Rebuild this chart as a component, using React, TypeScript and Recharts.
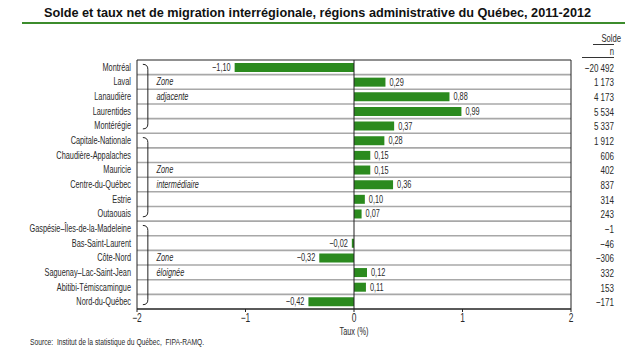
import React from "react";
import {
  BarChart,
  Bar,
  XAxis,
  YAxis,
  CartesianGrid,
  ReferenceLine,
  ReferenceArea,
  ReferenceDot,
  LabelList,
} from "recharts";

const regions = [
  "Montréal",
  "Laval",
  "Lanaudière",
  "Laurentides",
  "Montérégie",
  "Capitale-Nationale",
  "Chaudière-Appalaches",
  "Mauricie",
  "Centre-du-Québec",
  "Estrie",
  "Outaouais",
  "Gaspésie–Îles-de-la-Madeleine",
  "Bas-Saint-Laurent",
  "Côte-Nord",
  "Saguenay–Lac-Saint-Jean",
  "Abitibi-Témiscamingue",
  "Nord-du-Québec",
];

const taux = [-1.1, 0.29, 0.88, 0.99, 0.37, 0.28, 0.15, 0.15, 0.36, 0.1, 0.07, 0.0, -0.02, -0.32, 0.12, 0.11, -0.42];

const solde = [-20492, 1173, 4173, 5534, 5337, 1912, 606, 402, 837, 314, 243, -1, -46, -306, 332, 153, -171];

const xTicks = [-2, -1, 0, 1, 2];

const zones = [
  { from: "Montréal", to: "Montérégie", words: ["Zone", "adjacente"], rows: ["Laval", "Lanaudière"] },
  { from: "Capitale-Nationale", to: "Outaouais", words: ["Zone", "intermédiaire"], rows: ["Mauricie", "Centre-du-Québec"] },
  { from: "Gaspésie–Îles-de-la-Madeleine", to: "Nord-du-Québec", words: ["Zone", "éloignée"], rows: ["Côte-Nord", "Saguenay–Lac-Saint-Jean"] },
];

const data = regions.map((name, i) => ({ name, taux: taux[i], solde: solde[i] }));

const FONT = "'Liberation Sans', Arial, sans-serif";
const SQUEEZE = 0.7;
const GREEN = "#2b8a1e";
const TEXT = "#2a2a2a";

const fmtTaux = (v: number) => (v < 0 ? "−" : "") + Math.abs(v).toFixed(2).replace(".", ",");
const fmtSolde = (v: number) =>
  (v < 0 ? "−" : "") + Math.abs(v).toString().replace(/\B(?=(\d{3})+(?!\d))/g, " ");

// Arial Narrow look-alike: regular font squeezed horizontally
const Narrow = ({ x, y, anchor = "start", size = 10, italic = false, dy = 3.5, children }: any) => (
  <text
    transform={`translate(${x},${y}) scale(${SQUEEZE},1)`}
    x={0}
    y={0}
    dy={dy}
    textAnchor={anchor}
    fontSize={size}
    fontStyle={italic ? "italic" : "normal"}
    fontFamily={FONT}
    fill={TEXT}
  >
    {children}
  </text>
);

const BarValue = (props: any) => {
  const { x, y, width, height, value } = props;
  const neg = value < 0;
  return (
    <Narrow x={neg ? Math.min(x, x + width) - 4 : x + width + 4} y={y + height / 2} anchor={neg ? "end" : "start"} size={10.5}>
      {fmtTaux(value)}
    </Narrow>
  );
};

const RegionTick = (props: any) => {
  const { x, y, payload } = props;
  return (
    <Narrow x={x} y={y} anchor="end" size={10.5}>
      {payload.value}
    </Narrow>
  );
};

const SoldeTick = (props: any) => {
  const { x, y, payload } = props;
  const v = solde[regions.indexOf(payload.value)];
  return (
    <Narrow x={x + 43} y={y} anchor="end" size={11.5} dy={4.5}>
      {fmtSolde(v)}
    </Narrow>
  );
};

const XTick = (props: any) => {
  const { x, y, payload } = props;
  const v = payload.value;
  return (
    <Narrow x={x} y={y} anchor="middle" size={12} dy={9}>
      {v < 0 ? "−" + Math.abs(v) : String(v)}
    </Narrow>
  );
};

const TauxLabel = (props: any) => {
  const { viewBox } = props;
  return (
    <Narrow x={viewBox.x + viewBox.width / 2} y={viewBox.y + 22} anchor="middle" size={10.5}>
      Taux (%)
    </Narrow>
  );
};

const Bracket = (props: any) => {
  const { x1, y1, y2 } = props;
  const x = x1 - 5;
  const r = x1;
  const top = y1 - 3;
  const bot = y2 + 3;
  return (
    <path
      d={`M${x},${top} Q${r},${top} ${r},${top + 5} L${r},${bot - 5} Q${r},${bot} ${x},${bot}`}
      fill="none"
      stroke="#222"
      strokeWidth={1}
    />
  );
};

const App = () => {
  return (
    <div style={{ position: "absolute", left: 0, top: 0, width: 635, height: 357, background: "#fff" }}>
      <div
        style={{
          position: "absolute",
          top: 6,
          left: 0,
          width: 635,
          textAlign: "center",
          fontFamily: FONT,
          fontWeight: "bold",
          fontSize: 12.7,
          color: "#111",
        }}
      >
        Solde et taux net de migration interrégionale, régions administrative du Québec, 2011-2012
      </div>
      <div style={{ position: "absolute", top: 22, left: 22, width: 603, height: 2, background: "#3c8c2c" }} />
      <div
        style={{
          position: "absolute",
          top: 33,
          left: 574,
          width: 40,
          textAlign: "right",
          fontFamily: FONT,
          fontSize: 11,
          color: TEXT,
          lineHeight: "11px",
        }}
      >
        <div style={{ marginLeft: 19, borderBottom: "1px solid #333" }}>
          <span style={{ display: "inline-block", transform: `scaleX(${SQUEEZE})`, transformOrigin: "right" }}>Solde</span>
        </div>
        <div style={{ marginLeft: 8, borderBottom: "1px solid #333", paddingTop: 1 }}>
          <span style={{ display: "inline-block", transform: `scaleX(${SQUEEZE})`, transformOrigin: "right" }}>n</span>
        </div>
      </div>
      <div
        style={{
          position: "absolute",
          top: 336,
          left: 30,
          fontFamily: FONT,
          fontSize: 9.6,
          color: TEXT,
          transform: `scaleX(${SQUEEZE})`,
          transformOrigin: "left",
          whiteSpace: "nowrap",
        }}
      >
        Source:&nbsp; Institut de la statistique du Québec,&nbsp; FIPA-RAMQ.
      </div>
      <div style={{ position: "absolute", left: 0, top: 0 }}>
        <BarChart
          width={635}
          height={357}
          data={data}
          layout="vertical"
          margin={{ top: 60, right: 0, left: 0, bottom: 28 }}
          barSize={9}
        >
          <CartesianGrid
            vertical={false}
            stroke="#a8a8a8"
            strokeWidth={1.6}
            horizontalCoordinatesGenerator={({ offset }: any) =>
              regions.slice(1).map((_, i) => offset.top + ((i + 1) * offset.height) / regions.length)
            }
          />
          <XAxis
            type="number"
            domain={[-2, 2]}
            ticks={xTicks}
            height={20}
            tick={<XTick />}
            axisLine={{ stroke: "#222" }}
            tickLine={{ stroke: "#222" }}
            tickSize={3}
            tickMargin={1}
            label={<TauxLabel />}
          />
          <YAxis
            type="category"
            dataKey="name"
            width={137}
            axisLine={false}
            tickLine={false}
            tickSize={0}
            tickMargin={6}
            interval={0}
            tick={<RegionTick />}
          />
          <YAxis
            yAxisId="right"
            orientation="right"
            type="category"
            dataKey="name"
            width={64}
            axisLine={false}
            tickLine={false}
            tickSize={0}
            tickMargin={0}
            interval={0}
            tick={<SoldeTick />}
          />
          <ReferenceArea x1={-2} x2={2} fill="none" stroke="#222" strokeWidth={1} ifOverflow="visible" />
          <ReferenceLine x={0} stroke="#222" strokeWidth={1} />
          {zones.map((z) => (
            <ReferenceLine
              key={z.from}
              segment={[
                { x: -1.9, y: z.from },
                { x: -1.9, y: z.to },
              ]}
              ifOverflow="visible"
              shape={<Bracket />}
            />
          ))}
          {zones.map((z) =>
            z.words.map((w, k) => (
              <ReferenceDot
                key={z.from + w}
                x={-1.82}
                y={z.rows[k]}
                ifOverflow="visible"
                shape={(p: any) => (
                  <Narrow x={p.cx} y={p.cy} size={10.5} italic>
                    {w}
                  </Narrow>
                )}
              />
            ))
          )}
          <Bar dataKey="taux" fill={GREEN} isAnimationActive={false}>
            <LabelList dataKey="taux" content={<BarValue />} />
          </Bar>
        </BarChart>
      </div>
    </div>
  );
};

export default App;
